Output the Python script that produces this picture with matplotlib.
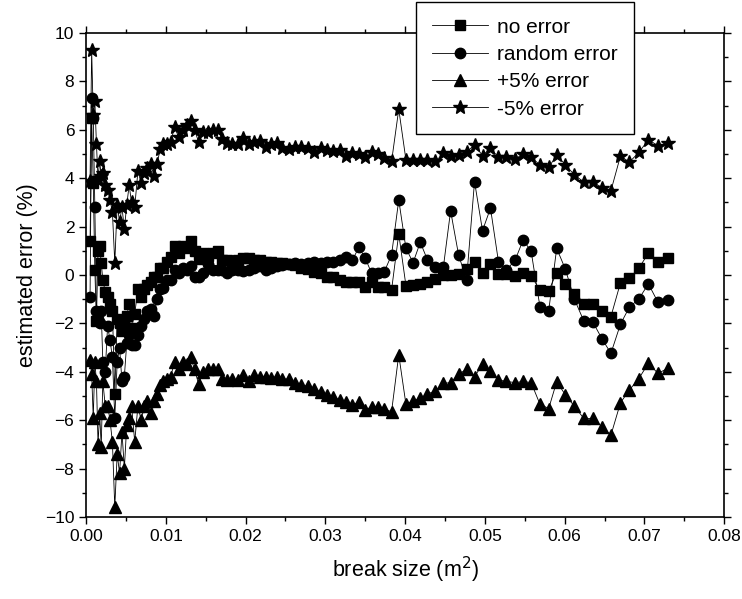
import matplotlib
matplotlib.use("Agg")
import matplotlib.pyplot as plt
from matplotlib.ticker import MultipleLocator

plt.rcParams['font.family'] = ['Liberation Sans', 'DejaVu Sans']

# break size (m^2), shared by all four series
break_size = [
    0.0005, 0.0007, 0.0009, 0.0011, 0.0013, 0.0015, 0.0017, 0.0019, 0.0021,
    0.0024, 0.0027, 0.0030, 0.0033, 0.0036, 0.0039, 0.0042, 0.0045, 0.0048, 0.0051, 0.0054, 0.0057,
    0.0061, 0.0065, 0.0069, 0.0073, 0.0077, 0.0081, 0.0085, 0.0089, 0.0093, 0.0097, 0.0101,
    0.0106, 0.0111, 0.0116, 0.0121, 0.0126, 0.0131, 0.0136, 0.0141,
    0.0147, 0.0153, 0.0159, 0.0165, 0.0171, 0.0177, 0.0183,
    0.0190, 0.0197, 0.0204, 0.0211, 0.0218, 0.0225, 0.0232, 0.0239, 0.0246,
    0.0254, 0.0262, 0.0270, 0.0278, 0.0286, 0.0294, 0.0302, 0.0310, 0.0318, 0.0326,
    0.0334, 0.0342, 0.0350, 0.0358, 0.0366, 0.0374,
    0.0383, 0.0392, 0.0401, 0.0410, 0.0419, 0.0428, 0.0438, 0.0448, 0.0457, 0.0467,
    0.0477, 0.0487, 0.0497, 0.0507, 0.0517, 0.0527, 0.0538, 0.0548, 0.0558, 0.0569,
    0.0580, 0.0590, 0.0601, 0.0612, 0.0624, 0.0635, 0.0647, 0.0658, 0.0670, 0.0681,
    0.0693, 0.0705, 0.0717, 0.0729,
]

no_error = [
    1.4, 6.5, 3.8, 0.2, -1.9, 1.0, 1.2, 0.5, -0.2,
    -0.7, -0.9, -1.2, -1.5, -4.9, -1.8, -2.0, -2.3, -2.1, -1.7, -1.2, -2.2,
    -1.6, -0.6, -0.9, -0.6, -0.4, -0.3, -0.1, -0.1, 0.3, 0.3, 0.55,
    0.76, 1.2, 0.9, 1.2, 1.1, 1.4, 1.0, 0.65,
    0.9, 0.8, 0.9, 1.0, 0.62, 0.6, 0.55,
    0.6, 0.7, 0.7, 0.6, 0.62, 0.55, 0.55, 0.5, 0.5,
    0.45, 0.4, 0.3, 0.25, 0.14, 0.1, -0.07, -0.1, -0.2, -0.28,
    -0.3, -0.3, -0.48, -0.3, -0.48, -0.5,
    -0.62, 1.7, -0.44, -0.4, -0.38, -0.3, -0.18, 0.0, 0.0, 0.04,
    0.23, 0.55, 0.1, 0.45, 0.04, 0.04, -0.04, 0.1, -0.04, -0.62,
    -0.66, 0.1, -0.37, -0.79, -1.2, -1.2, -1.48, -1.72, -0.32, -0.14,
    0.28, 0.9, 0.52, 0.72,
]

random_error = [
    -0.9, 7.3, 6.5, 2.8, -1.5, -1.8, -2.0, -1.5, -3.6,
    -4.0, -2.1, -2.7, -3.4, -5.9, -3.6, -3.0, -4.4, -4.2, -2.8, -2.5, -2.9,
    -2.9, -2.5, -2.1, -1.8, -1.5, -1.4, -1.7, -1.0, -0.6, -0.55, -0.2,
    -0.2, 0.2, 0.1, 0.3, 0.2, 0.35, -0.1, -0.1,
    0.1, 0.45, 0.2, 0.2, 0.2, 0.1, 0.2,
    0.2, 0.15, 0.2, 0.3, 0.35, 0.2, 0.3, 0.35, 0.4,
    0.45, 0.5, 0.45, 0.5, 0.55, 0.5, 0.55, 0.55, 0.62, 0.76,
    0.62, 1.14, 0.69, 0.07, 0.07, 0.14,
    0.83, 3.1, 1.1, 0.51, 1.35, 0.62, 0.34, 0.34, 2.65, 0.83,
    -0.2, 3.86, 1.83, 2.76, 0.55, 0.2, 0.62, 1.45, 0.97, -1.31,
    -1.48, 1.1, 0.23, -0.99, -1.9, -1.93, -2.65, -3.24, -2.03, -1.34,
    -0.99, -0.37, -1.13, -1.03,
]

plus5_error = [
    -3.5, -4.1, -5.9, -3.6, -4.4, -7.0, -5.7, -7.1, -4.4,
    -5.4, -5.4, -6.0, -6.9, -9.6, -7.4, -8.2, -6.5, -8.0, -6.2, -5.9, -5.4,
    -6.9, -5.4, -6.0, -5.4, -5.2, -5.7, -5.2, -4.9, -4.55, -4.4, -4.3,
    -4.2, -3.6, -3.9, -3.6, -3.7, -3.4, -3.9, -4.5,
    -4.0, -3.9, -3.9, -3.9, -4.3, -4.35, -4.3,
    -4.35, -4.15, -4.4, -4.15, -4.2, -4.2, -4.25, -4.2, -4.3,
    -4.3, -4.45, -4.55, -4.6, -4.7, -4.83, -4.96, -5.03, -5.17, -5.24,
    -5.38, -5.24, -5.58, -5.45, -5.45, -5.55,
    -5.65, -3.3, -5.34, -5.2, -5.1, -4.92, -4.79, -4.48, -4.45, -4.1,
    -3.9, -4.2, -3.7, -3.95, -4.34, -4.4, -4.45, -4.4, -4.45, -5.34,
    -5.52, -4.41, -4.96, -5.42, -5.93, -5.93, -6.28, -6.62, -5.28, -4.76,
    -4.28, -3.65, -4.07, -3.86,
]

minus5_error = [
    3.9, 9.3, 6.6, 7.2, 5.4, 4.0, 4.7, 4.1, 4.2,
    3.7, 3.5, 3.1, 2.6, 0.5, 2.9, 2.2, 2.8, 1.9, 2.9, 3.7, 3.0,
    2.8, 4.3, 3.8, 4.2, 4.4, 4.6, 4.1, 4.6, 5.2, 5.4, 5.4,
    5.5, 6.1, 5.7, 6.0, 6.2, 6.35, 6.0, 5.5,
    5.9, 5.9, 6.0, 6.0, 5.6, 5.45, 5.4,
    5.4, 5.65, 5.4, 5.5, 5.55, 5.3, 5.4, 5.45, 5.25,
    5.2, 5.3, 5.3, 5.25, 5.1, 5.25, 5.17, 5.12, 5.15, 4.92,
    5.03, 4.99, 4.86, 5.06, 4.99, 4.82,
    4.69, 6.85, 4.76, 4.76, 4.73, 4.73, 4.69, 5.03, 4.93, 4.96,
    5.07, 5.38, 4.93, 5.24, 4.86, 4.86, 4.79, 5.0, 4.86, 4.55,
    4.44, 4.96, 4.55, 4.14, 3.84, 3.84, 3.61, 3.48, 4.92, 4.66,
    5.06, 5.59, 5.34, 5.45,
]

fig = plt.figure(figsize=(7.42, 5.99), dpi=100)
ax = fig.add_axes([0.116, 0.137, 0.86, 0.808])

series = [
    (no_error, 's', 6.5, 'no error'),
    (random_error, 'o', 7.5, 'random error'),
    (plus5_error, '^', 8.5, '+5% error'),
    (minus5_error, '*', 10.5, '-5% error'),
]
for ys, mk, ms, lab in series:
    ax.plot(break_size, ys, color='black', lw=0.6, marker=mk, ms=ms,
            markerfacecolor='black', markeredgecolor='black', label=lab)

ax.set_xlim(0, 0.08)
ax.set_ylim(-10, 10)
ax.xaxis.set_major_locator(MultipleLocator(0.01))
ax.xaxis.set_minor_locator(MultipleLocator(0.005))
ax.yaxis.set_major_locator(MultipleLocator(2))
ax.yaxis.set_minor_locator(MultipleLocator(1))
ax.xaxis.set_major_formatter(plt.FormatStrFormatter('%.2f'))
ax.tick_params(which='both', direction='out', top=True, right=True, labelsize=12.5)
ax.tick_params(which='major', length=5, width=1)
ax.tick_params(which='minor', length=3, width=1)
for sp in ax.spines.values():
    sp.set_linewidth(1.2)

ax.set_xlabel('break size (m$^2$)', fontsize=15.5, labelpad=8)
ax.set_ylabel('estimated error (%)', fontsize=15.5, labelpad=5)

leg = fig.legend(loc='upper left', bbox_to_anchor=(416 / 742, 1 - 2 / 599),
                 fontsize=15, handlelength=2.7, handletextpad=0.45,
                 labelspacing=0.4, borderpad=0.75, borderaxespad=0,
                 fancybox=False, frameon=True, edgecolor='black', framealpha=1)
leg.get_frame().set_linewidth(1.0)

fig.savefig('out.png', dpi=100)
